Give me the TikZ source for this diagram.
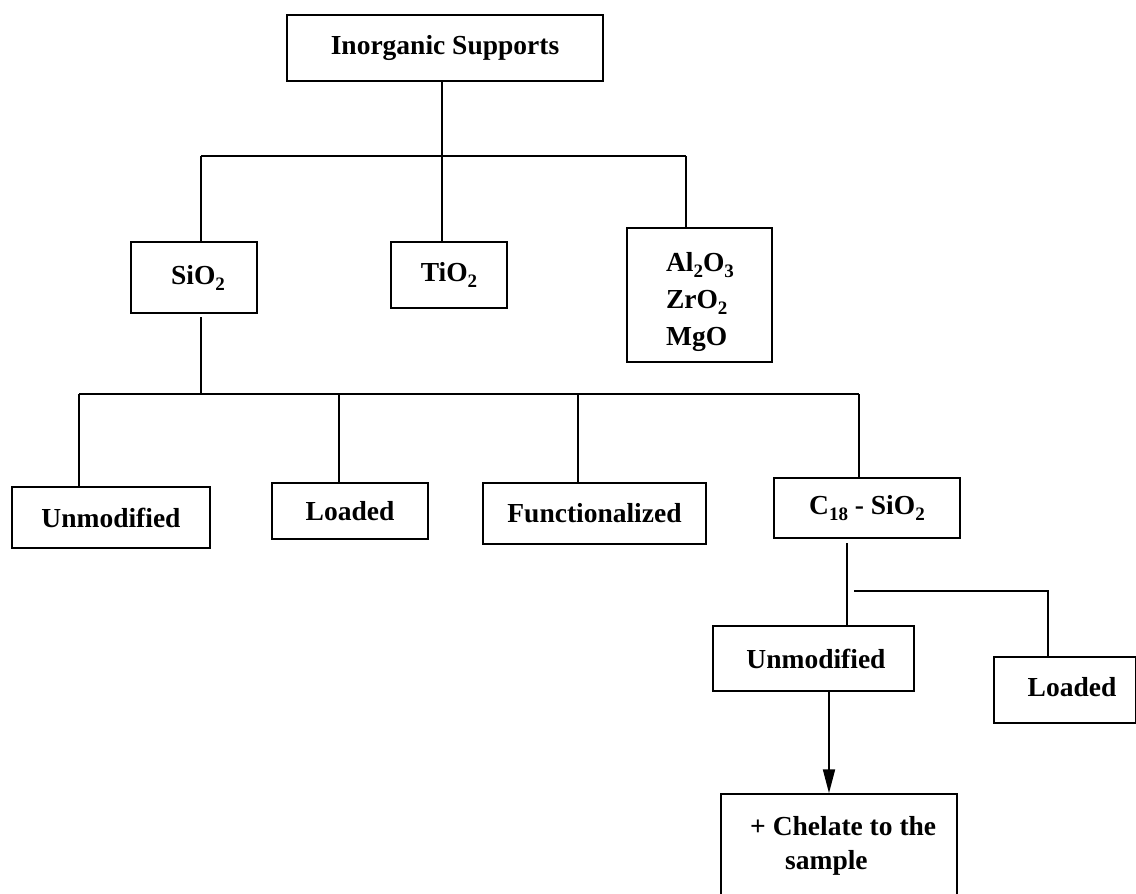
\documentclass[tikz,border=0pt]{standalone}
\usepackage{fontspec}
\setmainfont{Liberation Serif}
\usetikzlibrary{arrows.meta}
\newcommand{\boxfont}{\bfseries\fontsize{27.5}{34}\selectfont}
\newcommand{\sbs}[1]{\raisebox{-6pt}{\fontsize{19}{19}\selectfont #1}}
\tikzset{
  box/.style={draw, line width=1.5pt, inner sep=0pt, font=\boxfont},
  conn/.style={line width=1.5pt},
  arr/.style={line width=2pt, -{Triangle[length=24pt,width=12pt]}},
  lbl/.style={inner sep=0pt, font=\boxfont}
}
\begin{document}
\begin{tikzpicture}[x=1pt,y=-1pt]
\useasboundingbox (0,0) rectangle (1136,894);
% boxes
\node[box, minimum width=316pt, minimum height=66pt] (top) at (445,48) {Inorganic Supports};
\node[box, minimum width=126pt, minimum height=71pt] (sio2) at (194,277.5) {\hspace{8pt}SiO\sbs{2}};
\node[box, minimum width=116pt, minimum height=66pt] (tio2) at (449,275) {TiO\sbs{2}};
\node[box, minimum width=145pt, minimum height=134pt] (alz) at (699.5,295) {};
\node[lbl, align=left] (alztxt) at (700,302) {Al\sbs{2}O\sbs{3}\\[3pt]ZrO\sbs{2}\\[3pt]MgO};
\node[box, minimum width=198pt, minimum height=61pt] (unmod) at (111,517.5) {Unmodified};
\node[box, minimum width=156pt, minimum height=56pt] (loaded) at (350,511) {Loaded};
\node[box, minimum width=223pt, minimum height=61pt] (func) at (594.5,513.5) {Functionalized};
\node[box, minimum width=186pt, minimum height=60pt] (cso) at (867,508) {C\sbs{18} - SiO\sbs{2}};
\node[box, minimum width=201pt, minimum height=65pt] (unmodb) at (813.5,658.5) {\hspace{5pt}Unmodified};
\node[box, minimum width=142pt, minimum height=66pt] (loadedb) at (1065,690) {\raisebox{7pt}{\hspace{14pt}Loaded}};
\node[box, minimum width=236pt, minimum height=104pt] (chel) at (839,846) {};
\node[lbl, align=left, anchor=west] (cheltxt) at (750,846) {+ Chelate to the\\\hspace*{35pt}sample};
% level 1 connectors
\coordinate (j0) at (442,156);
\coordinate (hL) at (201,156);
\coordinate (hR) at (686,156);
\draw[conn] (j0 |- top.south) -- (j0);
\draw[conn] (hL) -- (hR);
\draw[conn] (hL) -- (hL |- sio2.north);
\draw[conn] (j0) -- (j0 |- tio2.north);
\draw[conn] (hR) -- (hR |- alz.north);
% level 2 connectors
\coordinate (k0) at (201,394);
\coordinate (kL) at (79,394);
\coordinate (k1) at (339,394);
\coordinate (k2) at (578,394);
\coordinate (kR) at (859,394);
\draw[conn] (201,317) -- (k0);
\draw[conn] (kL) -- (kR);
\draw[conn] (kL) -- (kL |- unmod.north);
\draw[conn] (k1) -- (k1 |- loaded.north);
\draw[conn] (k2) -- (k2 |- func.north);
\draw[conn] (kR) -- (kR |- cso.north);
% level 3 connectors
\coordinate (m0) at (847,543);
\coordinate (m1) at (854,591);
\coordinate (m2) at (1048,591);
\draw[conn] (m0) -- (m0 |- unmodb.north);
\draw[conn] (m1) -- (m2) -- (m2 |- loadedb.north);
\coordinate (a0) at (829,691);
\draw[arr] (a0 |- unmodb.south) -- (a0 |- chel.north);
\end{tikzpicture}
\end{document}
